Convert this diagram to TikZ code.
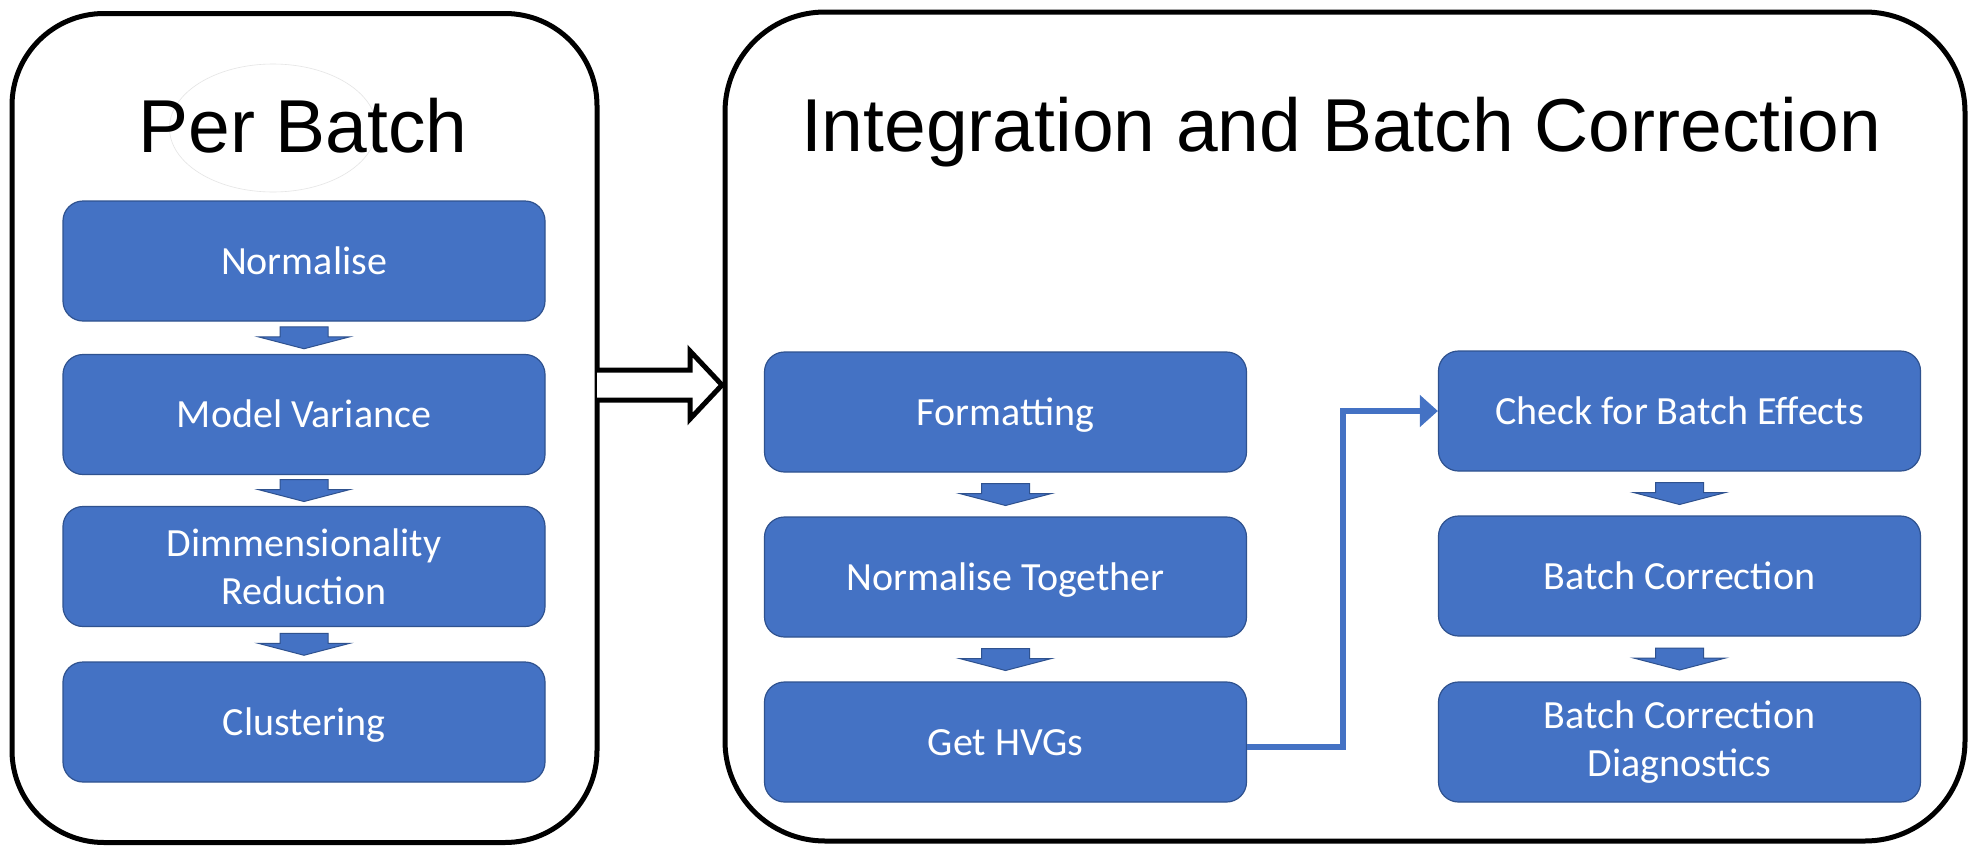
\documentclass[tikz,border=0pt]{standalone}
\usepackage{fontspec}
\setmainfont{Carlito}
\newfontfamily\titlefont{Liberation Sans}
\usetikzlibrary{arrows.meta,calc,shapes.geometric}
\definecolor{boxblue}{HTML}{4472C4}
\definecolor{boxedge}{HTML}{2F528F}
\begin{document}
\begin{tikzpicture}[x=1pt,y=-1pt,
  stepbox/.style={rectangle, rounded corners=20pt, fill=boxblue, draw=boxedge, line width=1.2pt,
    minimum width=482pt, minimum height=120pt, inner sep=0pt, text=white, align=center,
    font=\fontsize{40}{48}\selectfont},
  oneline/.style={text height=26pt, text depth=0pt},
  outerbox/.style={rectangle, draw=black, line width=5pt, inner sep=0pt},
  titletext/.style={anchor=base, inner sep=0pt, font=\titlefont\fontsize{75}{90}\selectfont},
  conn/.style={draw=boxblue, line width=6pt, -{Triangle[length=18pt,width=31pt]}},
  blockarrow/.pic={\filldraw[fill=boxblue, draw=boxedge, line width=1pt]
    (-24,-11) -- (24,-11) -- (24,-1) -- (46,-1) -- (0,11) -- (-46,-1) -- (-24,-1) -- cycle;}
]
\fill[white] (0,0) rectangle (1974,846);
\useasboundingbox (0,0) rectangle (1974,846);

% outer frames
\node[outerbox, rounded corners=92pt, minimum width=585pt, minimum height=829pt] (lb) at (304.5,428) {};
\node[outerbox, rounded corners=100pt, minimum width=1240pt, minimum height=829pt] (rb) at (1345,426.5) {};

% faint shape behind the title
\node[ellipse, draw=black!10, line width=0.6pt, minimum width=207pt, minimum height=128pt] (blob) at (273,128) {};

% titles
\node[titletext] (t1) at (303,152) {Per Batch};
\node[titletext] (t2) at (1341,151) {Integration and Batch Correction};

% left column
\node[stepbox, oneline] (n1) at (304,261) {Normalise};
\node[stepbox, oneline] (n2) at (304,414.5) {Model Variance};
\node[stepbox] (n3) at (304,566.5) {Dimmensionality\\Reduction};
\node[stepbox, oneline] (n4) at (304,722) {Clustering};

% middle column
\node[stepbox, oneline] (m1) at (1005.5,412) {Formatting};
\node[stepbox, oneline] (m2) at (1005.5,577) {Normalise Together};
\node[stepbox, oneline] (m3) at (1005.5,742) {Get HVGs};

% right column
\node[stepbox, oneline] (r1) at (1679.5,411) {Check for Batch Effects};
\node[stepbox, oneline] (r2) at (1679.5,576) {Batch Correction};
\node[stepbox] (r3) at (1679.5,742) {Batch Correction\\Diagnostics};

% block arrows between steps
\pic at ($(n1.south)!.5!(n2.north)$) {blockarrow};
\pic at ($(n2.south)!.5!(n3.north)$) {blockarrow};
\pic at ($(n3.south)!.5!(n4.north)$) {blockarrow};
\pic at ($(m1.south)!.5!(m2.north)$) {blockarrow};
\pic at ($(m2.south)!.5!(m3.north)$) {blockarrow};
\pic at ($(r1.south)!.5!(r2.north)$) {blockarrow};
\pic at ($(r2.south)!.5!(r3.north)$) {blockarrow};

% connector
\draw[conn] ([yshift=-5pt]m3.east) -| ($(m3.east)!.5!(r1.west)$) |- (r1.west);

% hollow arrow between frames
\draw[line width=5pt, fill=white, line join=miter]
  (597,370) -- (690,370) -- (690,351) -- (722,385) -- (690,419) -- (690,400) -- (597,400);
\end{tikzpicture}
\end{document}
